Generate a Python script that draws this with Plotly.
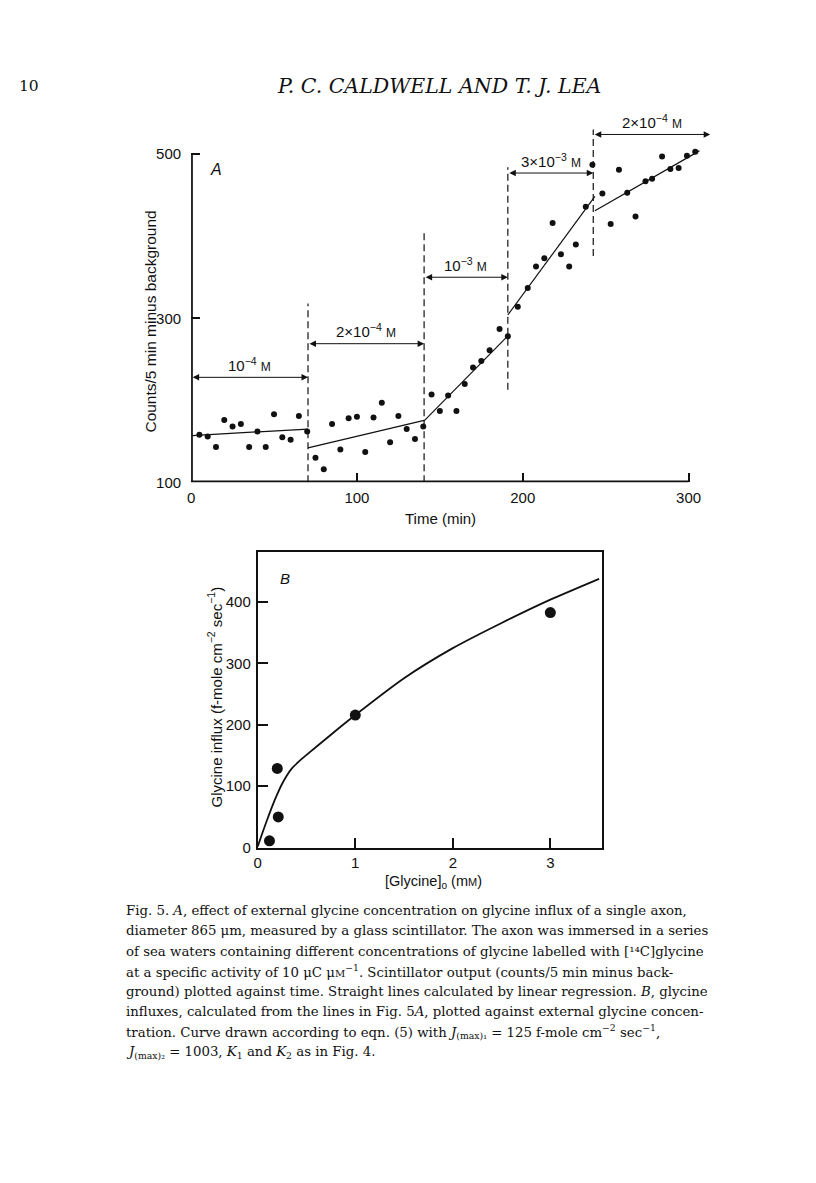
import plotly.graph_objects as go

W, H = 816, 1183
OFF = 8  # default page body margin
YS = 0.9925  # observed vertical compression of the photographed page

# ---------------- Panel A data ----------------
time_min = [5, 10, 15, 20, 25, 30, 35, 40, 45, 50, 55, 60, 65, 70,
            75, 80, 85, 90, 95, 100, 105, 110, 115, 120, 125, 130, 135, 140,
            145, 150, 155, 160, 165, 170, 175, 180, 186, 191,
            197, 203, 208, 213, 218, 223, 228, 232, 238, 242,
            248, 253, 258, 263, 268, 274, 278, 284, 289, 294, 299, 304]
counts = [158, 156, 143, 176, 168, 171, 143, 162, 143, 183, 155, 152, 181, 162,
          130, 116, 171, 140, 178, 180, 137, 179, 197, 149, 181, 165, 153, 168,
          207, 187, 206, 187, 220, 240, 248, 261, 287, 278,
          314, 337, 363, 373, 416, 378, 363, 390, 436, 487,
          452, 415, 481, 453, 424, 467, 470, 497, 482, 483, 498, 503]

# regression segments
seg_t0 = [0.5, 70.5, 140.5, 191, 243.5]
seg_v0 = [157, 142, 175, 304, 431]
seg_t1 = [70.5, 140.5, 191, 243.5, 306.5]
seg_v1 = [165, 175.6, 278.5, 448.5, 504]

# vertical dashed dividers
div_t = [70.5, 140.5, 191, 242.5]
div_v0 = [100, 100, 213, 376]
div_v1 = [318, 406, 484, 530]

# concentration arrows
arrow_t0 = [0, 70.5, 140.5, 191, 242.5]
arrow_t1 = [70.5, 140.5, 191, 242.5, 313]
arrow_v = [228, 269, 350, 477, 524]
SC = "<span style='font-size:12px'>M</span>"
arrow_labels = ["10<sup>−4</sup> " + SC, "2×10<sup>−4</sup> " + SC, "10<sup>−3</sup> " + SC,
                "3×10<sup>−3</sup> " + SC, "2×10<sup>−4</sup> " + SC]

a_xticks = [0, 100, 200, 300]
a_yticks = [100, 300, 500]

# ---------------- Panel B data ----------------
glycine_mM = [0.12, 0.20, 0.21, 1.0, 3.0]
influx = [11, 129, 50, 216, 383]
curve_x = [0, 0.05, 0.10, 0.15, 0.20, 0.25, 0.30, 0.35, 0.42, 0.50, 0.75, 1.0,
           1.5, 2.0, 2.5, 3.0, 3.5]
curve_y = [2, 25, 47, 68, 87, 104, 118, 129, 140, 151, 184, 216,
           276, 325, 366, 404, 438]
b_xticks = [0, 1, 2, 3]
b_yticks = [0, 100, 200, 300, 400]

caption_lines = [
    "Fig. 5. <i>A</i>, effect of external glycine concentration on glycine influx of a single axon,",
    "diameter 865 μm, measured by a glass scintillator. The axon was immersed in a series",
    "of sea waters containing different concentrations of glycine labelled with [¹⁴C]glycine",
    "at a specific activity of 10 μC μ<span style='font-size:10px'>M</span><sup>−1</sup>. Scintillator output (counts/5 min minus back-",
    "ground) plotted against time. Straight lines calculated by linear regression. <i>B</i>, glycine",
    "influxes, calculated from the lines in Fig. 5<i>A</i>, plotted against external glycine concen-",
    "tration. Curve drawn according to eqn. (5) with <i>J</i><sub>(max)₁</sub> = 125 f-mole cm<sup>−2</sup> sec<sup>−1</sup>,",
    "<i>J</i><sub>(max)₂</sub> = 1003, <i>K</i><sub>1</sub> and <i>K</i><sub>2</sub> as in Fig. 4.",
]

FW, FH = W - 2 * OFF, H - 2 * OFF


def px(x):
    return (x - OFF) / FW


def py(y):
    yc = (y - 1) / YS
    return 1 - (yc - OFF) / FH


SANS = "Liberation Sans, Arial, sans-serif"
SERIF = "DejaVu Serif, serif"
INK = "#111111"

fig = go.Figure()

# Panel A
fig.add_trace(go.Scatter(x=time_min, y=counts, mode="markers", xaxis="x", yaxis="y",
                         marker=dict(size=6, color=INK), cliponaxis=False, showlegend=False))
for i in range(len(seg_t0)):
    fig.add_trace(go.Scatter(x=[seg_t0[i], seg_t1[i]], y=[seg_v0[i], seg_v1[i]], mode="lines",
                             xaxis="x", yaxis="y", line=dict(color=INK, width=1.2),
                             showlegend=False, hoverinfo="skip"))

# Panel B
fig.add_trace(go.Scatter(x=curve_x, y=curve_y, mode="lines", xaxis="x2", yaxis="y2",
                         line=dict(color=INK, width=1.8, shape="spline", smoothing=0.6),
                         showlegend=False, hoverinfo="skip"))
fig.add_trace(go.Scatter(x=glycine_mM, y=influx, mode="markers", xaxis="x2", yaxis="y2",
                         marker=dict(size=11, color=INK), cliponaxis=False, showlegend=False))

shapes = []
# A spines
shapes.append(dict(type="line", xref="x", yref="y", x0=0, x1=0, y0=100, y1=500,
                   line=dict(color=INK, width=3.5)))
shapes.append(dict(type="line", xref="x", yref="y", x0=0, x1=300, y0=100, y1=100,
                   line=dict(color=INK, width=3.5)))
for i in range(len(div_t)):
    shapes.append(dict(type="line", xref="x", yref="y", x0=div_t[i], x1=div_t[i],
                       y0=div_v0[i], y1=div_v1[i],
                       line=dict(color=INK, width=1.2, dash="7px,4px")))

annotations = []


def label(x, y, text, size, family=SANS, angle=0, xanchor="center"):
    annotations.append(dict(xref="paper", yref="paper", x=px(x), y=py(y), text=text,
                            xanchor=xanchor, yanchor="middle", textangle=angle,
                            showarrow=False, font=dict(family=family, size=size, color=INK)))


for i in range(len(arrow_t0)):
    annotations.append(dict(xref="x", yref="y", axref="x", ayref="y",
                            x=arrow_t1[i], y=arrow_v[i], ax=arrow_t0[i], ay=arrow_v[i],
                            text="", showarrow=True, arrowside="end+start", arrowhead=2,
                            arrowsize=1.3, arrowwidth=1, arrowcolor=INK,
                            standoff=0, startstandoff=0))
    annotations.append(dict(xref="x", yref="y", x=(arrow_t0[i] + arrow_t1[i]) / 2, y=arrow_v[i],
                            text=arrow_labels[i], showarrow=False, yshift=13,
                            xanchor="center", yanchor="middle",
                            font=dict(family=SANS, size=15, color=INK)))

# A labels
label(213, 170, "<i>A</i>", 16)
label(147, 322, "Counts/5 min minus background", 15.5, angle=-90)
label(439, 519, "Time (min)", 15)

# B labels
label(282, 579, "<i>B</i>", 15)
label(212, 697, "Glycine influx (f-mole cm<sup>−2</sup> sec<sup>−1</sup>)", 15, angle=-90)
label(432, 882, "[Glycine]<sub>o</sub> (m<span style='font-size:11px'>M</span>)", 14.5)

# header
label(13, 87, "10", 15.5, family=SERIF, xanchor="left")
label(437, 87, "<i>P. C. CALDWELL AND T. J. LEA</i>", 20.5, family=SERIF)

# caption
for i, line in enumerate(caption_lines):
    label(121, 911 + i * 20.2, line, 13.3, family=SERIF, xanchor="left")

tickfont = dict(family=SANS, size=15, color=INK)

fig.update_layout(
    width=FW, height=FH, margin=dict(l=0, r=0, t=0, b=0),
    paper_bgcolor="white", plot_bgcolor="rgba(0,0,0,0)",
    xaxis=dict(domain=[px(188), px(708)], range=[0, 312], anchor="y",
               tickvals=a_xticks, ticks="inside", ticklen=9, tickwidth=2, tickcolor=INK,
               showline=False, showgrid=False, zeroline=False, tickfont=tickfont,
               ticklabelstandoff=5),
    yaxis=dict(domain=[py(483), py(100)], range=[100, 100 + 383 / 0.82], anchor="x",
               tickvals=a_yticks, ticks="inside", ticklen=9, tickwidth=2, tickcolor=INK,
               showline=False, showgrid=False, zeroline=False, tickfont=tickfont,
               ticklabelstandoff=9),
    xaxis2=dict(domain=[px(255), px(601)], range=[0, 3.53], anchor="y2",
                tickvals=b_xticks, ticks="inside", ticklen=10, tickwidth=2, tickcolor=INK,
                showline=True, linewidth=2, linecolor=INK, mirror=True,
                showgrid=False, zeroline=False, tickfont=tickfont, ticklabelstandoff=0),
    yaxis2=dict(domain=[py(848), py(553)], range=[0, 481], anchor="x2",
                tickvals=b_yticks, ticks="inside", ticklen=10, tickwidth=2, tickcolor=INK,
                showline=True, linewidth=2, linecolor=INK, mirror=True,
                showgrid=False, zeroline=False, tickfont=tickfont, ticklabelstandoff=2),
    shapes=shapes, annotations=annotations,
)

fig.write_html("out.html")
